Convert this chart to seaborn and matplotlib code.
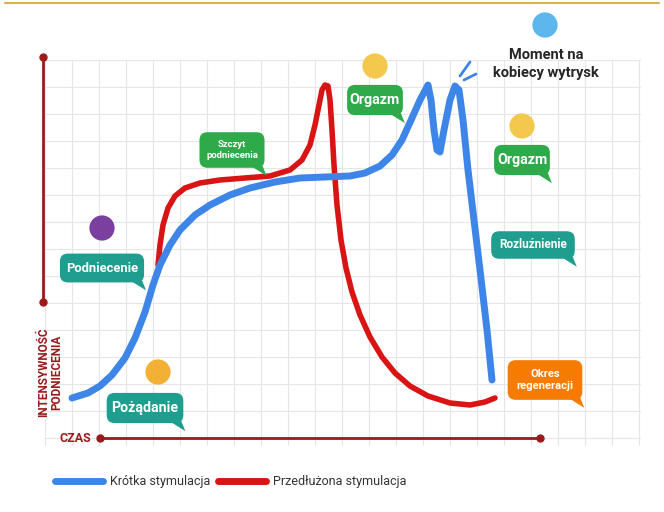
import numpy as np
import pandas as pd
import matplotlib.pyplot as plt
import seaborn as sns
from matplotlib.patches import FancyBboxPatch, Polygon

sns.set_theme(style="white")
plt.rcParams['font.family'] = ['Roboto', 'DejaVu Sans']

# Dane (czas, intensywnosc w jednostkach obrazu)
short_t = [72, 88, 100, 112, 125, 135, 145, 153, 160, 170, 180, 195, 210, 230, 250, 275,
           300, 325, 350, 365, 380, 392, 402, 412, 420, 428, 431, 434, 437, 440, 444,
           450, 455, 459, 463, 468, 474, 480, 487, 492]
short_y = [398, 393, 386, 375, 358, 338, 312, 285, 265, 245, 230, 215, 205, 195, 188, 182,
           178, 177, 176, 173, 166, 155, 140, 118, 100, 85, 100, 130, 150, 152, 130,
           100, 86, 90, 120, 170, 220, 270, 330, 380]
long_t = [158, 160, 163, 168, 175, 185, 200, 220, 245, 270, 290, 302, 310, 315, 319,
          322, 325, 328, 330, 332, 334, 337, 341, 346, 352, 360, 370, 382, 395, 410,
          428, 450, 470, 485, 495]
long_y = [265, 245, 225, 208, 196, 188, 183, 180, 178, 176, 170, 160, 145, 125, 105,
          90, 85, 86, 100, 130, 165, 205, 240, 268, 292, 315, 337, 357, 373, 386,
          396, 403, 405, 402, 398]

labels = {
    "short": "Krótka stymulacja",
    "long": "Przedłużona stymulacja",
}
callouts = [
    ("Podniecenie", 102, 268, 11, "#1f9d8f"),
    ("Pożądanie", 145, 408, 12, "#1f9d8f"),
    ("Szczyt\npodniecenia", 232, 150, 8, "#2eaa4a"),
    ("Orgazm", 375, 100, 12, "#2eaa4a"),
    ("Orgazm", 522, 160, 12, "#2eaa4a"),
    ("Rozluźnienie", 533, 245, 10, "#1f9d8f"),
    ("Okres\nregeneracji", 545, 380, 9.5, "#f57c00"),
]
emojis = [(102, 228, "#7b3fa0"), (158, 372, "#f2b134"), (375, 66, "#f2c94c"),
          (522, 126, "#f2c94c"), (545, 25, "#5cb8ec")]

fig = plt.figure(figsize=(6.64, 5.12), dpi=100)
ax = fig.add_axes([0, 0, 1, 1])

# siatka
for gx in np.arange(45, 645, 27):
    ax.plot([gx, gx], [60, 445], color='#e6e6e6', lw=0.8, zorder=0)
for gy in np.arange(60, 446, 27):
    ax.plot([45, 640], [gy, gy], color='#e6e6e6', lw=0.8, zorder=0)
ax.plot([5, 659], [3, 3], color='#d8b24a', lw=1.5)

# osie
axc = '#9b1b1b'
ax.plot([43, 43], [57, 302], color=axc, lw=2)
ax.scatter([43, 43], [57, 302], color=axc, s=25, zorder=3)
ax.plot([100, 540], [438, 438], color=axc, lw=2)
ax.scatter([100, 540], [438, 438], color=axc, s=25, zorder=3)
ax.text(75, 438, "CZAS", color=axc, fontsize=9, fontweight='bold', ha='center', va='center')
ax.text(50, 372, "INTENSYWNOŚĆ\nPODNIECENIA", color=axc, fontsize=8.5, fontweight='bold',
        rotation=90, ha='center', va='center', linespacing=1.0)

df_long = pd.DataFrame({"t": long_t, "y": long_y})
df_short = pd.DataFrame({"t": short_t, "y": short_y})
sns.lineplot(data=df_long, x="t", y="y", sort=False, color='#d81414', lw=4, ax=ax,
             zorder=2, solid_joinstyle='round', solid_capstyle='round')
sns.lineplot(data=df_short, x="t", y="y", sort=False, color='#3d86e8', lw=5, ax=ax,
             zorder=3, solid_joinstyle='round', solid_capstyle='round')
ax.set_xlim(0, 664)
ax.set_ylim(512, 0)
ax.axis('off')

# znaczniki wytrysku
ax.plot([460, 470], [76, 62], color='#3d86e8', lw=2)
ax.plot([464, 476], [80, 74], color='#3d86e8', lw=2)
ax.text(546, 64, "Moment na\nkobiecy wytrysk", fontsize=10.5, fontweight='bold',
        ha='center', va='center', linespacing=1.3)

for txt, cx, cy, fs, col in callouts:
    lines = txt.split("\n")
    w = max(len(s) for s in lines) * fs * 0.58 + 14
    h = len(lines) * fs * 1.35 + 14
    ax.add_patch(FancyBboxPatch((cx - w / 2, cy - h / 2), w, h,
                                boxstyle="round,pad=0,rounding_size=8",
                                fc=col, ec='none', zorder=4))
    ax.add_patch(Polygon([[cx + w / 2 - 14, cy + h / 2 - 2], [cx + w / 2 - 2, cy + h / 2 - 2],
                          [cx + w / 2 + 2, cy + h / 2 + 8]], closed=True, fc=col, ec='none', zorder=4))
    ax.text(cx, cy, txt, color='white', fontsize=fs * 0.85, fontweight='bold',
            ha='center', va='center', zorder=5, linespacing=1.2)

for ex, ey, col in emojis:
    ax.scatter([ex], [ey], s=330, color=col, zorder=5, edgecolors='none')

# legenda
ax.plot([55, 103], [481, 481], color='#3d86e8', lw=5, solid_capstyle='round')
ax.text(110, 481, labels["short"], fontsize=9, va='center', color='#333333')
ax.plot([218, 266], [481, 481], color='#d81414', lw=5, solid_capstyle='round')
ax.text(273, 481, labels["long"], fontsize=9, va='center', color='#333333')

fig.savefig("out.png", dpi=100)
